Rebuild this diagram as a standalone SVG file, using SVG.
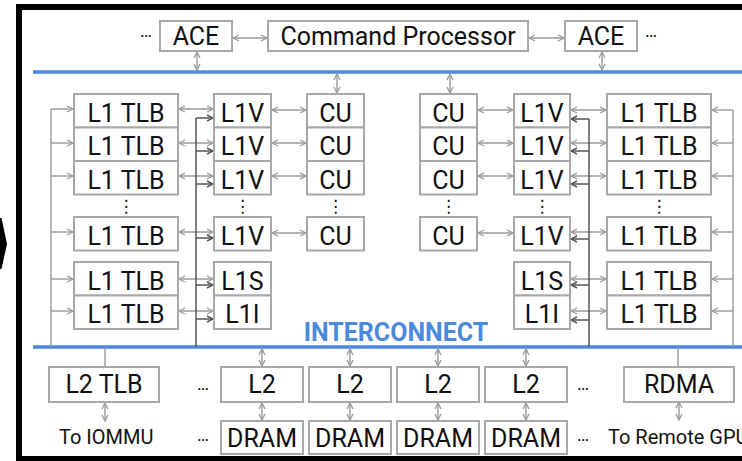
<svg xmlns="http://www.w3.org/2000/svg" width="742" height="461" viewBox="0 0 742 461">
<defs>
<style>
.b{fill:#fff;stroke:#a8a8a8;stroke-width:2}
.t{font-family:Roboto,"Liberation Sans",sans-serif;font-size:25px;text-anchor:middle;fill:#111}
.s{font-family:Roboto,"Liberation Sans",sans-serif;font-size:20px;fill:#111}
.d{font-family:Roboto,"DejaVu Sans",sans-serif;font-size:18px;text-anchor:middle;fill:#111}
.v{font-family:"DejaVu Sans",sans-serif;font-size:17px;text-anchor:middle;fill:#111}
.g{stroke:#9a9a9a;stroke-width:1.4;fill:none}
.gd{stroke:#9a9a9a;stroke-width:1.4;fill:none;marker-start:url(#ag);marker-end:url(#ag)}
.ge{stroke:#9a9a9a;stroke-width:1.4;fill:none;marker-end:url(#ag)}
.k{stroke:#555;stroke-width:1.5;fill:none}
.ke{stroke:#555;stroke-width:1.5;fill:none;marker-end:url(#ak)}
.bl{stroke:#4a89dc;stroke-width:3.5}
</style>
<marker id="ag" viewBox="0 0 8 8" refX="7.5" refY="4" markerWidth="8" markerHeight="8" markerUnits="userSpaceOnUse" orient="auto-start-reverse"><path d="M1.5,1 L7.5,4 L1.5,7" fill="none" stroke="#9a9a9a" stroke-width="1.3"/></marker>
<marker id="ak" viewBox="0 0 8 8" refX="7.5" refY="4" markerWidth="8" markerHeight="8" markerUnits="userSpaceOnUse" orient="auto-start-reverse"><path d="M1.5,1 L7.5,4 L1.5,7" fill="none" stroke="#555" stroke-width="1.4"/></marker>
</defs>
<rect x="0" y="0" width="742" height="461" fill="#fff"/>
<rect x="19" y="7" width="800" height="452" fill="none" stroke="#000" stroke-width="6"/>
<polygon points="0,218 1.5,218 7,244 1.5,269 0,269" fill="#000"/>

<g id="buses">
<line class="bl" x1="33" y1="72" x2="742" y2="72"/>
<line class="bl" x1="33" y1="347" x2="742" y2="347"/>
<text x="396" y="341" style="font-family:Roboto,'Liberation Sans',sans-serif;font-size:25px;font-weight:bold;fill:#4a89dc;text-anchor:middle">INTERCONNECT</text>
</g>

<g id="connectors">
<!-- top -->
<line class="gd" x1="233" y1="38" x2="267" y2="38"/>
<line class="gd" x1="529" y1="38" x2="564" y2="38"/>
<line class="gd" x1="197" y1="52" x2="197" y2="70"/>
<line class="gd" x1="602" y1="52" x2="602" y2="70"/>
<line class="gd" x1="337" y1="74" x2="337" y2="93"/>
<line class="gd" x1="450" y1="74" x2="450" y2="93"/>
<!-- left trunk -->
<line class="g" x1="51" y1="109" x2="51" y2="347"/>
<line class="ge" x1="51" y1="109" x2="73" y2="109"/>
<line class="ge" x1="51" y1="143" x2="73" y2="143"/>
<line class="ge" x1="51" y1="176" x2="73" y2="176"/>
<line class="ge" x1="51" y1="232" x2="73" y2="232"/>
<line class="ge" x1="51" y1="279" x2="73" y2="279"/>
<line class="ge" x1="51" y1="311" x2="73" y2="311"/>
<!-- left TLB-L1 -->
<line class="gd" x1="179" y1="109" x2="213" y2="109"/>
<line class="gd" x1="179" y1="143" x2="213" y2="143"/>
<line class="gd" x1="179" y1="176" x2="213" y2="176"/>
<line class="gd" x1="179" y1="232" x2="213" y2="232"/>
<line class="gd" x1="179" y1="279" x2="213" y2="279"/>
<line class="gd" x1="179" y1="311" x2="213" y2="311"/>
<!-- left dark trunk -->
<line class="k" x1="196" y1="118" x2="196" y2="347"/>
<line class="ke" x1="196" y1="118" x2="213" y2="118"/>
<line class="ke" x1="196" y1="151" x2="213" y2="151"/>
<line class="ke" x1="196" y1="184" x2="213" y2="184"/>
<line class="ke" x1="196" y1="238" x2="213" y2="238"/>
<line class="ke" x1="196" y1="285" x2="213" y2="285"/>
<line class="ke" x1="196" y1="319" x2="213" y2="319"/>
<!-- left L1V-CU -->
<line class="gd" x1="272" y1="110" x2="306" y2="110"/>
<line class="gd" x1="272" y1="143" x2="306" y2="143"/>
<line class="gd" x1="272" y1="176" x2="306" y2="176"/>
<line class="gd" x1="272" y1="233" x2="306" y2="233"/>
<!-- right CU-L1V -->
<line class="gd" x1="478" y1="110" x2="513" y2="110"/>
<line class="gd" x1="478" y1="143" x2="513" y2="143"/>
<line class="gd" x1="478" y1="176" x2="513" y2="176"/>
<line class="gd" x1="478" y1="233" x2="513" y2="233"/>
<!-- right L1-TLB -->
<line class="gd" x1="571" y1="110" x2="606" y2="110"/>
<line class="gd" x1="571" y1="143" x2="606" y2="143"/>
<line class="gd" x1="571" y1="176" x2="606" y2="176"/>
<line class="gd" x1="571" y1="232" x2="606" y2="232"/>
<line class="gd" x1="571" y1="279" x2="606" y2="279"/>
<line class="gd" x1="571" y1="311" x2="606" y2="311"/>
<!-- right dark trunk -->
<line class="k" x1="589" y1="119" x2="589" y2="347"/>
<line class="ke" x1="589" y1="119" x2="571" y2="119"/>
<line class="ke" x1="589" y1="151" x2="571" y2="151"/>
<line class="ke" x1="589" y1="184" x2="571" y2="184"/>
<line class="ke" x1="589" y1="239" x2="571" y2="239"/>
<line class="ke" x1="589" y1="285" x2="571" y2="285"/>
<line class="ke" x1="589" y1="320" x2="571" y2="320"/>
<!-- right trunk -->
<line class="g" x1="733" y1="110" x2="733" y2="347"/>
<line class="ge" x1="733" y1="110" x2="712" y2="110"/>
<line class="ge" x1="733" y1="143" x2="712" y2="143"/>
<line class="ge" x1="733" y1="176" x2="712" y2="176"/>
<line class="ge" x1="733" y1="232" x2="712" y2="232"/>
<line class="ge" x1="733" y1="279" x2="712" y2="279"/>
<line class="ge" x1="733" y1="311" x2="712" y2="311"/>
<!-- bottom -->
<line class="g" x1="105" y1="347" x2="105" y2="367"/>
<line class="g" x1="678" y1="347" x2="678" y2="367"/>
<line class="gd" x1="262" y1="349" x2="262" y2="366"/>
<line class="gd" x1="350" y1="349" x2="350" y2="366"/>
<line class="gd" x1="438" y1="349" x2="438" y2="366"/>
<line class="gd" x1="526" y1="349" x2="526" y2="366"/>
<line class="gd" x1="262" y1="403" x2="262" y2="420"/>
<line class="gd" x1="350" y1="403" x2="350" y2="420"/>
<line class="gd" x1="438" y1="403" x2="438" y2="420"/>
<line class="gd" x1="526" y1="403" x2="526" y2="420"/>
<line class="gd" x1="105" y1="403" x2="105" y2="421"/>
<line class="gd" x1="679" y1="402" x2="679" y2="420"/>
</g>

<g id="ace-left"><rect class="b" x="160" y="21" width="72" height="30"/><text class="t" x="196" y="45">ACE</text></g>
<g id="command-processor"><rect class="b" x="268" y="21" width="260" height="30"/><text class="t" x="398" y="45">Command Processor</text></g>
<g id="ace-right"><rect class="b" x="565" y="21" width="72" height="30"/><text class="t" x="601" y="45">ACE</text></g>
<text class="d" x="146" y="37">…</text>
<text class="d" x="651" y="37">…</text>

<g id="l1tlb-l1"><rect class="b" x="74" y="94" width="104" height="33.5"/><text class="t" x="126" y="121.5">L1 TLB</text></g>
<g id="l1tlb-l2"><rect class="b" x="74" y="127.5" width="104" height="33.5"/><text class="t" x="126" y="155">L1 TLB</text></g>
<g id="l1tlb-l3"><rect class="b" x="74" y="161" width="104" height="33.5"/><text class="t" x="126" y="188.5">L1 TLB</text></g>
<g id="l1tlb-l4"><rect class="b" x="74" y="217" width="104" height="33.5"/><text class="t" x="126" y="244.5">L1 TLB</text></g>
<g id="l1tlb-l5"><rect class="b" x="74" y="262" width="104" height="33.5"/><text class="t" x="126" y="289.5">L1 TLB</text></g>
<g id="l1tlb-l6"><rect class="b" x="74" y="295.5" width="104" height="33.5"/><text class="t" x="126" y="323">L1 TLB</text></g>

<g id="l1v-l1"><rect class="b" x="214" y="94" width="57" height="33.5"/><text class="t" x="242.5" y="121.5">L1V</text></g>
<g id="l1v-l2"><rect class="b" x="214" y="127.5" width="57" height="33.5"/><text class="t" x="242.5" y="155">L1V</text></g>
<g id="l1v-l3"><rect class="b" x="214" y="161" width="57" height="33.5"/><text class="t" x="242.5" y="188.5">L1V</text></g>
<g id="l1v-l4"><rect class="b" x="214" y="217" width="57" height="33.5"/><text class="t" x="242.5" y="244.5">L1V</text></g>
<g id="l1s-l"><rect class="b" x="214" y="262" width="57" height="33.5"/><text class="t" x="242.5" y="289.5">L1S</text></g>
<g id="l1i-l"><rect class="b" x="214" y="295.5" width="57" height="33.5"/><text class="t" x="242.5" y="323">L1I</text></g>

<g id="cu-l1"><rect class="b" x="307" y="94" width="57" height="33.5"/><text class="t" x="335.5" y="121.5">CU</text></g>
<g id="cu-l2"><rect class="b" x="307" y="127.5" width="57" height="33.5"/><text class="t" x="335.5" y="155">CU</text></g>
<g id="cu-l3"><rect class="b" x="307" y="161" width="57" height="33.5"/><text class="t" x="335.5" y="188.5">CU</text></g>
<g id="cu-l4"><rect class="b" x="307" y="217" width="57" height="33.5"/><text class="t" x="335.5" y="244.5">CU</text></g>

<g id="cu-r1"><rect class="b" x="420" y="94" width="57" height="33.5"/><text class="t" x="448.5" y="121.5">CU</text></g>
<g id="cu-r2"><rect class="b" x="420" y="127.5" width="57" height="33.5"/><text class="t" x="448.5" y="155">CU</text></g>
<g id="cu-r3"><rect class="b" x="420" y="161" width="57" height="33.5"/><text class="t" x="448.5" y="188.5">CU</text></g>
<g id="cu-r4"><rect class="b" x="420" y="217" width="57" height="33.5"/><text class="t" x="448.5" y="244.5">CU</text></g>

<g id="l1v-r1"><rect class="b" x="514" y="94" width="56" height="33.5"/><text class="t" x="542" y="121.5">L1V</text></g>
<g id="l1v-r2"><rect class="b" x="514" y="127.5" width="56" height="33.5"/><text class="t" x="542" y="155">L1V</text></g>
<g id="l1v-r3"><rect class="b" x="514" y="161" width="56" height="33.5"/><text class="t" x="542" y="188.5">L1V</text></g>
<g id="l1v-r4"><rect class="b" x="514" y="217" width="56" height="33.5"/><text class="t" x="542" y="244.5">L1V</text></g>
<g id="l1s-r"><rect class="b" x="514" y="262" width="56" height="33.5"/><text class="t" x="542" y="289.5">L1S</text></g>
<g id="l1i-r"><rect class="b" x="514" y="295.5" width="56" height="33.5"/><text class="t" x="542" y="323">L1I</text></g>

<g id="l1tlb-r1"><rect class="b" x="607" y="94" width="104" height="33.5"/><text class="t" x="659" y="121.5">L1 TLB</text></g>
<g id="l1tlb-r2"><rect class="b" x="607" y="127.5" width="104" height="33.5"/><text class="t" x="659" y="155">L1 TLB</text></g>
<g id="l1tlb-r3"><rect class="b" x="607" y="161" width="104" height="33.5"/><text class="t" x="659" y="188.5">L1 TLB</text></g>
<g id="l1tlb-r4"><rect class="b" x="607" y="217" width="104" height="33.5"/><text class="t" x="659" y="244.5">L1 TLB</text></g>
<g id="l1tlb-r5"><rect class="b" x="607" y="262" width="104" height="33.5"/><text class="t" x="659" y="289.5">L1 TLB</text></g>
<g id="l1tlb-r6"><rect class="b" x="607" y="295.5" width="104" height="33.5"/><text class="t" x="659" y="323">L1 TLB</text></g>

<g id="vdots">
<text class="v" x="126" y="212">⋮</text>
<text class="v" x="242.5" y="212">⋮</text>
<text class="v" x="335.5" y="212">⋮</text>
<text class="v" x="448.5" y="212">⋮</text>
<text class="v" x="542" y="212">⋮</text>
<text class="v" x="659" y="212">⋮</text>
</g>

<g id="l2tlb"><rect class="b" x="49" y="367" width="110" height="35"/><text class="t" x="104" y="393">L2 TLB</text></g>
<g id="l2-1"><rect class="b" x="221" y="367" width="82" height="35"/><text class="t" x="262" y="393">L2</text></g>
<g id="l2-2"><rect class="b" x="309" y="367" width="82" height="35"/><text class="t" x="350" y="393">L2</text></g>
<g id="l2-3"><rect class="b" x="397" y="367" width="82" height="35"/><text class="t" x="438" y="393">L2</text></g>
<g id="l2-4"><rect class="b" x="485" y="367" width="82" height="35"/><text class="t" x="526" y="393">L2</text></g>
<g id="rdma"><rect class="b" x="624" y="367" width="110" height="35"/><text class="t" x="679" y="393">RDMA</text></g>
<g id="dram-1"><rect class="b" x="221" y="421" width="82" height="33"/><text class="t" x="262" y="446.5">DRAM</text></g>
<g id="dram-2"><rect class="b" x="309" y="421" width="82" height="33"/><text class="t" x="350" y="446.5">DRAM</text></g>
<g id="dram-3"><rect class="b" x="397" y="421" width="82" height="33"/><text class="t" x="438" y="446.5">DRAM</text></g>
<g id="dram-4"><rect class="b" x="485" y="421" width="82" height="33"/><text class="t" x="526" y="446.5">DRAM</text></g>
<text class="d" x="203" y="390">…</text>
<text class="d" x="203" y="441">…</text>
<text class="d" x="583" y="390">…</text>
<text class="d" x="583" y="441">…</text>
<text class="s" x="59" y="444">To IOMMU</text>
<text class="s" x="608" y="444">To Remote GPU</text>
</svg>
